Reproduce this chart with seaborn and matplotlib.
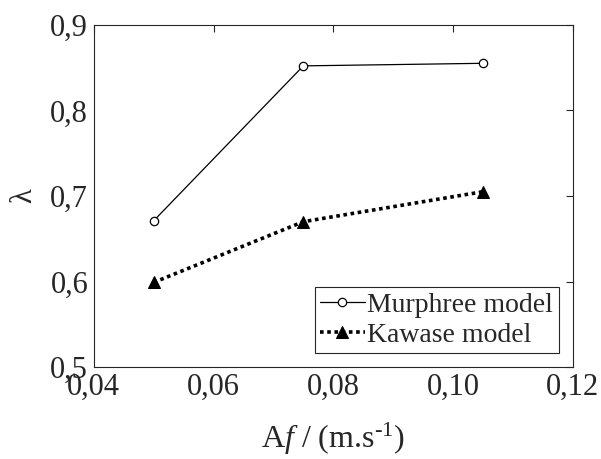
import seaborn as sns
import pandas as pd
import matplotlib.pyplot as plt

# Data
amp_freq = [0.05, 0.075, 0.105]
murphree = [0.671, 0.852, 0.855]
kawase = [0.599, 0.670, 0.705]
x_ticks = [0.04, 0.06, 0.08, 0.10, 0.12]
y_ticks = [0.5, 0.6, 0.7, 0.8, 0.9]

df_m = pd.DataFrame({'Af': amp_freq, 'lam': murphree})
df_k = pd.DataFrame({'Af': amp_freq, 'lam': kawase})

sns.set_style('white')
plt.rcParams['font.family'] = ['Liberation Serif', 'DejaVu Serif']
plt.rcParams['mathtext.fontset'] = 'custom'
plt.rcParams['mathtext.rm'] = 'Liberation Serif'
plt.rcParams['mathtext.it'] = 'Liberation Serif:italic'

fig = plt.figure(figsize=(6.01, 4.59), dpi=100)
ax = fig.add_axes([0.156, 0.20, 0.797, 0.746])

sns.lineplot(data=df_m, x='Af', y='lam', ax=ax, color='black', linewidth=0.9,
             marker='o', markersize=6, markerfacecolor='white',
             markeredgecolor='black', markeredgewidth=0.9, label='Murphree model')
sns.lineplot(data=df_k, x='Af', y='lam', ax=ax, color='black', linewidth=2.6,
             dashes=False, marker='^', markersize=8, markerfacecolor='black',
             markeredgecolor='black', label='Kawase model')
ax.lines[1].set_linestyle((0, (1, 1)))

ax.set_xlim(0.04, 0.12)
ax.set_ylim(0.5, 0.9)
ax.set_xticks(x_ticks)
ax.set_yticks(y_ticks)
ax.set_xticklabels([f'{v:.2f}'.replace('.', ',') for v in x_ticks], fontsize=22)
ax.set_yticklabels([f'{v:.1f}'.replace('.', ',') for v in y_ticks], fontsize=22)
ax.tick_params(direction='in', length=5, width=0.8, top=True, right=True,
               colors='#262626', labelcolor='#262626', pad=4)
for s in ax.spines.values():
    s.set_color('#262626')
    s.set_linewidth(0.8)

ax.set_xlabel('A$f$ / (m.s$^{\u20101}$)', fontsize=23, labelpad=14, color='#262626')
ax.set_ylabel('\u03bb', fontsize=22, labelpad=9, color='#262626')

leg = ax.legend(loc='lower right', fontsize=20, frameon=True, fancybox=False,
                handlelength=1.6, handletextpad=0.1, borderpad=0.2,
                labelspacing=0.15, borderaxespad=0.5)
leg.get_frame().set_edgecolor('#262626')
leg.get_frame().set_linewidth(0.8)
leg.get_frame().set_alpha(1)

fig.savefig('out.png', dpi=100)
